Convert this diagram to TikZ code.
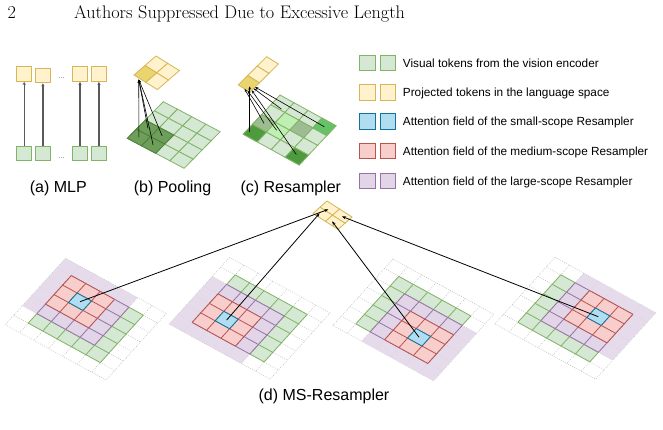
\documentclass[tikz,border=0pt]{standalone}
\usepackage{fontspec}
\setsansfont{Liberation Sans}
\usetikzlibrary{arrows.meta}
\definecolor{gfill}{HTML}{D5E8D4}
\definecolor{gline}{HTML}{82B366}
\definecolor{yfill}{HTML}{FFF2CC}
\definecolor{yline}{HTML}{D6B656}
\definecolor{bfill}{HTML}{B1DDF0}
\definecolor{bline}{HTML}{10739E}
\definecolor{rfill}{HTML}{F8CECC}
\definecolor{rline}{HTML}{B85450}
\definecolor{pfill}{HTML}{E1D5E7}
\definecolor{pline}{HTML}{9673A6}
\definecolor{ydark}{HTML}{E9D46E}
\definecolor{gdark}{HTML}{6E9F5A}
\definecolor{gdarkline}{HTML}{4E7F3A}
\definecolor{gdeep}{HTML}{4E9A3E}
\definecolor{gmid}{HTML}{66C266}
\definecolor{ggray}{HTML}{9DBC92}
\definecolor{gbright}{HTML}{BDF0B2}
\definecolor{arrgray}{HTML}{5A5A5A}

\tikzset{
  cellw/.style={line width=0.8pt},
  dotg/.style={gray!55, line width=0.5pt, dash pattern=on 0.8pt off 1.3pt},
  sq/.style={minimum size=14.6pt, inner sep=0pt, line width=0.9pt},
  gsq/.style={sq, fill=gfill, draw=gline},
  ysq/.style={sq, fill=yfill, draw=yline},
  legsq/.style={minimum size=15.5pt, inner sep=0pt, line width=0.9pt},
  legtext/.style={anchor=base west, inner sep=0pt, font=\sffamily\fontsize{11.8}{13}\selectfont},
  captext/.style={anchor=base, inner sep=0pt, font=\sffamily\fontsize{16}{18}\selectfont},
  mlparr/.style={arrgray, line width=1.2pt, -{Stealth[length=3pt,width=3.2pt]}},
  thinarr/.style={black, line width=0.6pt, -{Stealth[length=3.2pt,width=2.6pt]}},
  darr/.style={black, line width=0.8pt, -{Stealth[length=4pt,width=3pt]}},
  gcell/.style={fill=gfill, draw=gline, cellw},
  ycell/.style={fill=yfill, draw=yline, cellw},
  hdr/.style={anchor=base west, inner sep=0pt, font=\fontsize{18.2}{21}\selectfont},
}

% one cell of a skewed grid
\newcommand\pcell[3]{\filldraw[#1] (#2,#3) -- ++(1,0) -- ++(0,1) -- ++(-1,0) -- cycle;}

% MS-Resampler grid: #1 name, #2 #3 top corner, #4 #5 purple origin, #6-#9 purple/green overlap
\newcommand\msgrid[9]{%
\begin{scope}[shift={(#2,#3)}, x={(14.4pt,-7.9pt)}, y={(-8.6pt,-9.5pt)}]
  \fill[white] (0,0) -- (7,0) -- (7,7) -- (0,7) -- cycle;
  \foreach \k in {0,...,7} {\draw[dotg] (\k,0) -- (\k,7); \draw[dotg] (0,\k) -- (7,\k);}
  \fill[gfill] (1,1) -- (6,1) -- (6,6) -- (1,6) -- cycle;
  \foreach \k in {1,...,6} {\draw[gline,cellw] (\k,1) -- (\k,6); \draw[gline,cellw] (1,\k) -- (6,\k);}
  \fill[pfill, opacity=0.85] (#4,#5) -- ++(5,0) -- ++(0,5) -- ++(-5,0) -- cycle;
  \fill[pfill] (#6,#7) -- (#8,#7) -- (#8,#9) -- (#6,#9) -- cycle;
  \foreach \k in {#6,...,#8} {\draw[pline,cellw] (\k,#7) -- (\k,#9);}
  \foreach \k in {#7,...,#9} {\draw[pline,cellw] (#6,\k) -- (#8,\k);}
  \begin{scope}[shift={(#4+1,#5+1)}]
    \fill[rfill] (0,0) -- (3,0) -- (3,3) -- (0,3) -- cycle;
    \foreach \k in {0,...,3} {\draw[rline,cellw] (\k,0) -- (\k,3); \draw[rline,cellw] (0,\k) -- (3,\k);}
    \filldraw[fill=bfill, draw=bline, cellw] (1,1) -- (2,1) -- (2,2) -- (1,2) -- cycle;
    \coordinate (#1) at (1.5,1.5);
  \end{scope}
\end{scope}}

\begin{document}
\begin{tikzpicture}[x=1pt,y=-1pt]
\useasboundingbox (0,0) rectangle (663,429);
\fill[white] (0,0) rectangle (663,429);

% ---------- header ----------
\node[hdr] (pnum) at (7.3,18.3) {2};
\node[hdr] (htitle) at (74,18.3) {Authors Suppressed Due to Excessive Length};

% ---------- (a) MLP ----------
\node[ysq] (ya) at (24.2,74.2) {};
\node[ysq] (yb) at (42.9,75.6) {};
\node[ysq] (yc) at (80,74.2) {};
\node[ysq] (yd) at (98.9,74.2) {};
\node[gsq] (ga) at (24.2,153.5) {};
\node[gsq] (gb) at (42.9,153.5) {};
\node[gsq] (gc) at (80,153.5) {};
\node[gsq] (gd) at (98.9,153.5) {};
\node[anchor=base, inner sep=0pt, text=gray, font=\sffamily\fontsize{8}{9}\selectfont] (dtop) at (61.6,78.5) {...};
\node[anchor=base, inner sep=0pt, text=gray, font=\sffamily\fontsize{8}{9}\selectfont] (dbot) at (61.6,158.5) {...};
\draw[mlparr] (ga) -- (ya);
\draw[mlparr] (gb) -- (yb);
\draw[mlparr] (gc) -- (yc);
\draw[mlparr] (gd) -- (yd);
\node[captext] (capa) at (58.3,192) {(a) MLP};

% ---------- (b) Pooling ----------
\begin{scope}[shift={(163.3,101.7)}, x={(14.2pt,-7.5pt)}, y={(-9pt,-9.15pt)}]
  \foreach \i in {0,...,3} {\foreach \j in {0,...,3} {\pcell{gcell}{\i}{\j}}}
  \foreach \i/\j in {0/2,1/2,0/3,1/3} {\pcell{fill=gdark,draw=gdarkline,cellw}{\i}{\j}}
  \coordinate (pa) at (0.5,2.5);
  \coordinate (pb) at (1.5,2.5);
  \coordinate (pc) at (0.5,3.5);
  \coordinate (pd) at (1.5,3.5);
\end{scope}
\begin{scope}[shift={(156,56)}, x={(11.7pt,-7.3pt)}, y={(-11pt,-9.5pt)}]
  \pcell{ycell}{0}{0}
  \pcell{ycell}{1}{0}
  \pcell{ycell}{1}{1}
  \pcell{fill=ydark,draw=yline,cellw}{0}{1}
  \coordinate (ptok) at (0.5,2.1);
\end{scope}
\draw[thinarr] (pa) -- (ptok);
\draw[thinarr] (pb) -- (ptok);
\draw[thinarr] (pc) -- (ptok);
\draw[thinarr] (pd) -- (ptok);
\node[captext] (capb) at (172.5,192) {(b) Pooling};

% ---------- (c) Resampler ----------
\begin{scope}[shift={(280,95)}, x={(14pt,-7.7pt)}, y={(-9.2pt,-9.8pt)}]
  \foreach \i in {0,...,3} {\foreach \j in {0,...,3} {\pcell{gcell}{\i}{\j}}}
  \pcell{fill=gmid,draw=gline,cellw}{3}{0}
  \pcell{fill=ggray,draw=gline,cellw}{2}{1}
  \pcell{fill=ggray,draw=gline,cellw}{0}{2}
  \pcell{fill=gbright,draw=gline,cellw}{1}{2}
  \pcell{fill=gbright,draw=gline,cellw}{1}{1}
  \pcell{fill=gdeep,draw=gline,cellw}{0}{3}
  \pcell{fill=gdeep,draw=gline,cellw}{3}{3}
  \coordinate (ra) at (0.2,3.6);
  \coordinate (rb) at (0.5,2.5);
  \coordinate (rc) at (1.4,2.5);
  \coordinate (rd) at (0.7,0.9);
  \coordinate (re) at (3.4,3.4);
  \coordinate (rf) at (3.5,0.5);
\end{scope}
\begin{scope}[shift={(266.7,56.7)}, x={(11.7pt,-7.3pt)}, y={(-9.5pt,-9.4pt)}]
  \pcell{ycell}{0}{0}
  \pcell{ycell}{0}{1}
  \pcell{fill=ydark,draw=yline,cellw}{0}{2}
  \coordinate (rt1) at (0.2,3);
  \coordinate (rt2) at (0.55,3);
  \coordinate (rt3) at (0.8,3);
  \coordinate (rt4) at (1,2.8);
  \coordinate (rt5) at (1,2.6);
  \coordinate (rt6) at (1,2.45);
\end{scope}
\draw[thinarr] (ra) -- (ra |- rt1);
\draw[thinarr] (rb) -- (rt2);
\draw[thinarr] (rc) -- (rt3);
\draw[thinarr] (re) -- (rt4);
\draw[thinarr] (rd) -- (rt5);
\draw[thinarr] (rf) -- (rt6);
\node[captext] (capc) at (290.8,192) {(c) Resampler};

% ---------- legend ----------
\node[legsq, fill=gfill, draw=gline] (l1a) at (367.2,62.8) {};
\node[legsq, fill=gfill, draw=gline] (l1b) at (387.8,62.8) {};
\node[legtext] (l1t) at (402.7,67.1) {Visual tokens from the vision encoder};
\node[legsq, fill=yfill, draw=yline] (l2a) at (367.2,92.3) {};
\node[legsq, fill=yfill, draw=yline] (l2b) at (387.8,92.3) {};
\node[legtext] (l2t) at (402.7,96.6) {Projected tokens in the language space};
\node[legsq, fill=bfill, draw=bline] (l3a) at (367.2,121.3) {};
\node[legsq, fill=bfill, draw=bline] (l3b) at (387.8,121.3) {};
\node[legtext] (l3t) at (402.7,125.6) {Attention field of the small-scope Resampler};
\node[legsq, fill=rfill, draw=rline] (l4a) at (367.2,150.8) {};
\node[legsq, fill=rfill, draw=rline] (l4b) at (387.8,150.8) {};
\node[legtext] (l4t) at (402.7,155.1) {Attention field of the medium-scope Resampler};
\node[legsq, fill=pfill, draw=pline] (l5a) at (367.2,180.8) {};
\node[legsq, fill=pfill, draw=pline] (l5b) at (387.8,180.8) {};
\node[legtext] (l5t) at (402.7,185.1) {Attention field of the large-scope Resampler};

% ---------- (d) MS-Resampler ----------
\msgrid{bA}{65.5}{258.2}{0}{0}{1}{1}{5}{5}
\msgrid{bB}{229.4}{257.5}{0}{2}{1}{2}{5}{6}
\msgrid{bC}{393}{259}{2}{2}{2}{2}{6}{6}
\msgrid{bD}{555}{257.4}{2}{0}{2}{1}{6}{5}

\begin{scope}[shift={(327,201)}, x={(12.5pt,-8pt)}, y={(-7pt,-6.2pt)}]
  \pcell{ycell}{0}{0}
  \pcell{ycell}{1}{0}
  \pcell{ycell}{0}{1}
  \pcell{ycell}{1}{1}
  \coordinate (tA) at (0.5,0.7);
  \coordinate (tB) at (0.3,1.6);
  \coordinate (tC) at (1.3,1.6);
  \coordinate (tD) at (1.5,0.55);
\end{scope}
\draw[darr] (bA) -- (tA);
\draw[darr] (bB) -- (tB);
\draw[darr] (bC) -- (tC);
\draw[darr] (bD) -- (tD);
\node[captext] (capd) at (324,400.5) {(d) MS-Resampler};
\end{tikzpicture}
\end{document}
